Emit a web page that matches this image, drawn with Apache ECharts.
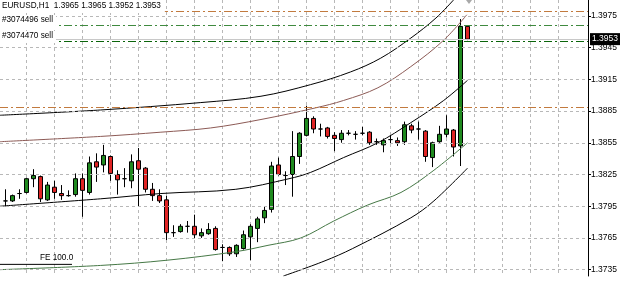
<!DOCTYPE html>
<html>
<head>
<meta charset="utf-8">
<script src="https://cdn.jsdelivr.net/npm/echarts@6/dist/echarts.min.js"></script>
<style>
  html, body { margin: 0; padding: 0; background: #fff; }
  #chart { width: 625px; height: 288px; }
</style>
</head>
<body>
<div id="chart"></div>
<script>
// EURUSD H1 bars, oldest first
const opens = [
  1.3800, 1.3800, 1.3807, 1.3808, 1.3821, 1.3823, 1.3801, 1.3813, 1.3807, 1.3805,
  1.3806, 1.3821, 1.3808, 1.3837, 1.3834, 1.3842, 1.3825, 1.3821, 1.3819, 1.3838,
  1.3831, 1.3811, 1.3805, 1.3801, 1.3770, 1.3771, 1.3776, 1.3776, 1.3767, 1.3769,
  1.3774, 1.3756, 1.3756, 1.3750, 1.3755, 1.3766, 1.3774, 1.3784, 1.3792, 1.3834,
  1.3824, 1.3825, 1.3842, 1.3862, 1.3878, 1.3868, 1.3869, 1.3862, 1.3858, 1.3864,
  1.3863, 1.3864, 1.3865, 1.3856, 1.3853, 1.3858, 1.3857, 1.3856, 1.3871, 1.3868,
  1.3866, 1.3841, 1.3856, 1.3863, 1.3867, 1.3852, 1.3965
];
const closes = [
  1.3800, 1.3805, 1.3807, 1.3821, 1.3824, 1.3802, 1.3815, 1.3808, 1.3805, 1.3805,
  1.3821, 1.3810, 1.3836, 1.3832, 1.3843, 1.3826, 1.3820, 1.3821, 1.3837, 1.3830,
  1.3811, 1.3805, 1.3800, 1.3770, 1.3770, 1.3776, 1.3776, 1.3768, 1.3770, 1.3773,
  1.3754, 1.3756, 1.3750, 1.3758, 1.3768, 1.3776, 1.3783, 1.3791, 1.3833, 1.3825,
  1.3824, 1.3842, 1.3864, 1.3878, 1.3868, 1.3868, 1.3861, 1.3859, 1.3864, 1.3864,
  1.3863, 1.3864, 1.3855, 1.3856, 1.3857, 1.3858, 1.3855, 1.3872, 1.3867, 1.3868,
  1.3842, 1.3855, 1.3863, 1.3868, 1.3851, 1.3965, 1.3953
];
const lows = [
  1.3795, 1.3799, 1.3802, 1.3807, 1.3813, 1.3799, 1.3800, 1.3802, 1.3801, 1.3804,
  1.3804, 1.3785, 1.3806, 1.3818, 1.3827, 1.3819, 1.3806, 1.3813, 1.3812, 1.3795,
  1.3808, 1.3800, 1.3798, 1.3763, 1.3766, 1.3770, 1.3770, 1.3764, 1.3765, 1.3768,
  1.3753, 1.3743, 1.3748, 1.3747, 1.3754, 1.3744, 1.3761, 1.3779, 1.3789, 1.3824,
  1.3815, 1.3804, 1.3835, 1.3861, 1.3864, 1.3861, 1.3859, 1.3847, 1.3855, 1.3862,
  1.3858, 1.3862, 1.3853, 1.3853, 1.3846, 1.3854, 1.3852, 1.3853, 1.3864, 1.3858,
  1.3837, 1.3832, 1.3855, 1.3860, 1.3842, 1.3833, 1.3952
];
const highs = [
  1.3811, 1.3806, 1.3811, 1.3822, 1.3830, 1.3824, 1.3818, 1.3819, 1.3815, 1.3810,
  1.3826, 1.3826, 1.3842, 1.3845, 1.3853, 1.3843, 1.3829, 1.3831, 1.3844, 1.3850,
  1.3832, 1.3817, 1.3811, 1.3805, 1.3777, 1.3778, 1.3781, 1.3787, 1.3774, 1.3779,
  1.3776, 1.3759, 1.3757, 1.3759, 1.3772, 1.3778, 1.3785, 1.3795, 1.3837, 1.3841,
  1.3828, 1.3866, 1.3865, 1.3890, 1.3880, 1.3873, 1.3870, 1.3865, 1.3867, 1.3867,
  1.3866, 1.3870, 1.3866, 1.3859, 1.3859, 1.3862, 1.3860, 1.3875, 1.3873, 1.3875,
  1.3867, 1.3856, 1.3871, 1.3881, 1.3868, 1.3972, 1.3965
];

// price scale ticks on the right
const yTicks = [1.3735, 1.3765, 1.3795, 1.3825, 1.3855, 1.3885, 1.3915, 1.3945, 1.3975];
// vertical grid, in bar index
const xGrid = [3, 7, 11, 15, 19, 23, 27, 31, 35, 39, 43, 47, 51, 55, 59, 63, 67, 71, 75, 79];
const yMin = 1.3729, yMax = 1.3990;
// 84 bar slots of 7px; offset keeps bar centres on pixel centres
const xMin = -0.7857, xMax = 83.2143;

// channel curves drawn on the chart: [bar index, price]
const upperBlack = [[-0.8, 1.3881], [13.6, 1.3886], [27.9, 1.3893], [36.5, 1.3899], [43.6, 1.3910],
  [49.3, 1.3922], [53.6, 1.3935], [57.9, 1.3954], [61.5, 1.3973], [64.0, 1.3990]];
const brownCurve = [[-0.8, 1.3856], [13.6, 1.3861], [22.2, 1.3865], [29.3, 1.3869], [36.5, 1.3877],
  [44.3, 1.3888], [48.3, 1.3895], [53.2, 1.3907], [57.9, 1.3927], [62.6, 1.3952], [65.9, 1.3976]];
const midBlack = [[-0.8, 1.3795], [13.6, 1.3802], [22.2, 1.3807], [32.9, 1.3811], [40.5, 1.3821],
  [43.6, 1.3827], [48.3, 1.3841], [53.2, 1.3855], [57.9, 1.3874], [62.6, 1.3895], [66.0, 1.3914]];
const greenCurve = [[-0.8, 1.3735], [13.6, 1.3739], [23.2, 1.3744], [32.9, 1.3752], [37.5, 1.3758],
  [42.2, 1.3765], [46.9, 1.3781], [51.7, 1.3796], [56.5, 1.3808], [61.2, 1.3829], [66.0, 1.3855]];
const lowBlack = [[39.7, 1.3729], [45.5, 1.3743], [49.6, 1.3755], [57.9, 1.3784], [61.2, 1.3800], [66.0, 1.3831]];
const feLine = [[-0.8, 1.3740], [9.5, 1.3740]];

// horizontal order lines
const orderPrices = [1.3979, 1.3966, 1.3951, 1.3889];
const orderColors = ['#c27a3e', '#3f8a3f', '#0b650b', '#c27a3e'];
const orderLabels = ['#3074496 sell', '#3074470 sell'];
const bidPrice = 1.3953;
const header = 'EURUSD,H1  1.3965 1.3965 1.3952 1.3953';

const font = "'Liberation Sans', Arial, sans-serif";
const txt = { fontSize: 8.2, fontWeight: 'normal', color: '#000', fontFamily: font };
const gridColor = '#b8b8b8';
const gridStyle = { color: gridColor, type: [3, 3], width: 1 };
const hidden = { show: false };

const candles = opens.map((o, i) => [i, o, closes[i], lows[i], highs[i]]);

const curve = (data, color) => ({
  type: 'line', data: data, smooth: 0.35, showSymbol: false, silent: true, z: 4,
  lineStyle: { color: color, width: 1 }
});

// dashed vertical grid lines, placed through the axis scale
const vGridSeries = {
  type: 'custom', data: xGrid.map(k => [k, yMin]), encode: { x: 0, y: 1 },
  silent: true, z: 1, animation: false,
  renderItem: (params, api) => {
    const k = api.value(0);
    const top = api.coord([k, yMax]);
    const bottom = api.coord([k, yMin]);
    return {
      type: 'line',
      shape: { x1: top[0], y1: top[1], x2: bottom[0], y2: bottom[1] },
      style: { stroke: gridColor, lineWidth: 1, lineDash: [3, 3] }
    };
  }
};

const levelLines = []
  .concat(yTicks.map(p => ({ yAxis: p, lineStyle: gridStyle })))
  .concat(orderPrices.map((p, i) => ({
    yAxis: p, lineStyle: { color: orderColors[i], type: [8, 3, 2, 3], width: 1 }
  })))
  .concat([{
    yAxis: bidPrice,
    lineStyle: { color: '#c8c8c8', type: 'solid', width: 1 },
    label: {
      show: true, position: 'end', distance: 2, formatter: bidPrice.toFixed(4),
      color: '#fff', backgroundColor: '#000', padding: [2, 2, 1, 2],
      fontSize: 8.5, fontFamily: font
    }
  }]);

const chart = echarts.init(document.getElementById('chart'));
chart.setOption({
  animation: false,
  backgroundColor: '#fff',
  title: [
    { text: header, left: 0, top: 0, padding: [2, 4, 3, 2], backgroundColor: '#fff', textStyle: txt },
    { text: orderLabels[0], left: 0, top: 15, padding: [1, 3, 3, 2], backgroundColor: '#fff', textStyle: txt },
    { text: orderLabels[1], left: 0, top: 31, padding: [1, 3, 3, 2], backgroundColor: '#fff', textStyle: txt },
    { text: 'FE 100.0', left: 40, top: 254, padding: 0, textStyle: txt }
  ],
  grid: { left: 0, right: 37, top: 0, bottom: 12 },
  xAxis: {
    type: 'value', min: xMin, max: xMax,
    axisLine: { show: false, onZero: false }, axisTick: hidden, axisLabel: hidden, splitLine: hidden
  },
  yAxis: {
    type: 'value', position: 'right', min: yMin, max: yMax,
    axisLine: { show: true, onZero: false, lineStyle: { color: '#000', width: 1 } },
    axisTick: { show: true, length: 3, customValues: yTicks, lineStyle: { color: '#000' } },
    axisLabel: {
      customValues: yTicks, margin: 3, color: '#000', fontSize: 8.5, fontFamily: font,
      formatter: v => v.toFixed(4)
    },
    splitLine: hidden
  },
  graphic: [{
    type: 'polygon', z: 100,
    shape: { points: [[466, 0], [472, 0], [469, 4]] },
    style: { fill: '#a8a8a8' }
  }],
  series: [
    vGridSeries,
    {
      type: 'line', data: feLine, showSymbol: false, silent: true, z: 1,
      lineStyle: { color: '#000', width: 1 },
      markLine: {
        symbol: 'none', silent: true, animation: false, precision: 4,
        label: { show: false },
        data: levelLines
      }
    },
    {
      type: 'candlestick', data: candles, barWidth: 5, z: 3,
      encode: { x: 0, y: [1, 2, 3, 4] },
      itemStyle: {
        color: '#1f8a1f', color0: '#e02424',
        borderColor: '#000', borderColor0: '#000', borderColorDoji: '#000', borderWidth: 1
      }
    },
    curve(upperBlack, '#000'),
    curve(brownCurve, '#8c5a55'),
    curve(midBlack, '#000'),
    curve(greenCurve, '#467846'),
    curve(lowBlack, '#000')
  ]
});
</script>
</body>
</html>
